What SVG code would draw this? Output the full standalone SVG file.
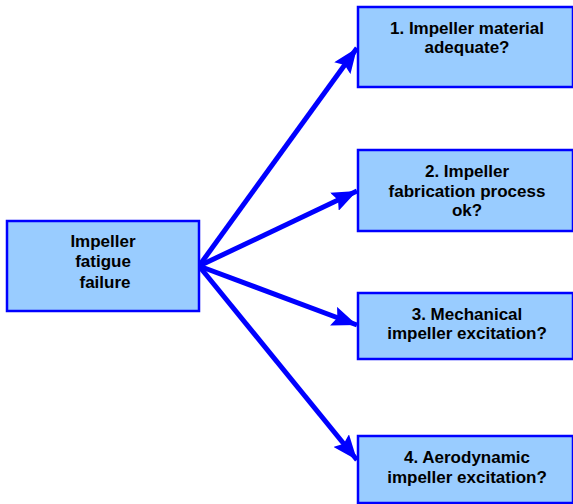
<svg xmlns="http://www.w3.org/2000/svg" width="573" height="504" viewBox="0 0 573 504">
<defs>
<style>
.box{fill:#99CCFF;stroke:#0000FF;stroke-width:2.5}
.lbl{font-family:"Liberation Sans",Arial,sans-serif;font-weight:bold;font-size:17px;fill:#000;text-anchor:middle}
.conn{stroke:#0000FF;stroke-width:5;fill:none}
</style>
<marker id="ah" markerUnits="userSpaceOnUse" markerWidth="28" markerHeight="20" refX="25" refY="10" orient="auto">
<path d="M0,0 L25,10 L0,20 L4,10 Z" fill="#0000FF"/>
</marker>
</defs>
<g id="connectors">
<line class="conn" x1="199" y1="266" x2="357" y2="48" marker-end="url(#ah)"/>
<line class="conn" x1="199" y1="266" x2="357" y2="191" marker-end="url(#ah)"/>
<line class="conn" x1="199" y1="266" x2="357" y2="325" marker-end="url(#ah)"/>
<line class="conn" x1="199" y1="266" x2="357" y2="460" marker-end="url(#ah)"/>
</g>
<g id="root">
<rect class="box" x="7" y="221" width="192" height="90"/>
<text class="lbl" x="103" y="247">Impeller</text>
<text class="lbl" x="103" y="267">fatigue</text>
<text class="lbl" x="105" y="288">failure</text>
</g>
<g id="n1">
<rect class="box" x="358" y="7" width="215" height="80"/>
<text class="lbl" x="467" y="34">1. Impeller material</text>
<text class="lbl" x="467" y="53">adequate?</text>
</g>
<g id="n2">
<rect class="box" x="358" y="150" width="215" height="81"/>
<text class="lbl" x="467" y="177">2. Impeller</text>
<text class="lbl" x="467" y="197">fabrication process</text>
<text class="lbl" x="467" y="216">ok?</text>
</g>
<g id="n3">
<rect class="box" x="358" y="293" width="215" height="66"/>
<text class="lbl" x="467" y="320">3. Mechanical</text>
<text class="lbl" x="467" y="339">impeller excitation?</text>
</g>
<g id="n4">
<rect class="box" x="358" y="436" width="215" height="67"/>
<text class="lbl" x="467" y="463">4. Aerodynamic</text>
<text class="lbl" x="467" y="483">impeller excitation?</text>
</g>
</svg>
